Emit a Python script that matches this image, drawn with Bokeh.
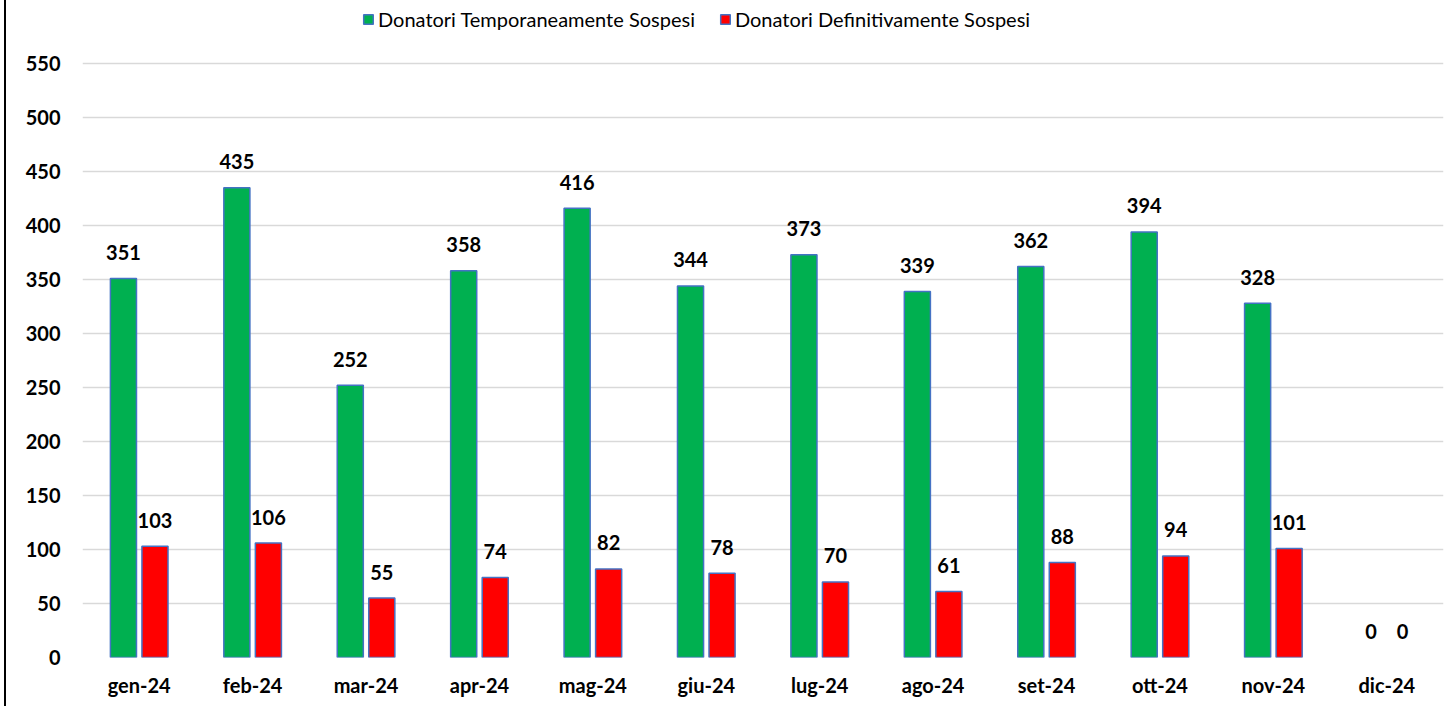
from bokeh.plotting import figure
from bokeh.models import ColumnDataSource, FactorRange, Range1d, Legend, LegendItem, FixedTicker
from bokeh.transform import dodge
from bokeh.core.properties import value
from bokeh.embed import file_html
from bokeh.resources import INLINE

months = ["gen-24", "feb-24", "mar-24", "apr-24", "mag-24", "giu-24",
          "lug-24", "ago-24", "set-24", "ott-24", "nov-24", "dic-24"]
temporanei = [351, 435, 252, 358, 416, 344, 373, 339, 362, 394, 328, 0]
definitivi = [103, 106, 55, 74, 82, 78, 70, 61, 88, 94, 101, 0]
y_ticks = [0, 50, 100, 150, 200, 250, 300, 350, 400, 450, 500, 550]
series_names = ["Donatori Temporaneamente Sospesi", "Donatori Definitivamente Sospesi"]

src = ColumnDataSource(dict(
    month=months,
    temp=temporanei,
    defi=definitivi,
    temp_lbl=[str(v) for v in temporanei],
    defi_lbl=[str(v) for v in definitivi],
    temp_la=[1.0 if v > 0 else 0.0 for v in temporanei],
    defi_la=[1.0 if v > 0 else 0.0 for v in definitivi],
))

# frame spans from canvas top to the zero line; 550 sits 63px below the top
PX_PER_UNIT = 594 / 550
FRAME_H = 657
y_end = FRAME_H / PX_PER_UNIT

p = figure(width=1441, height=706, x_range=FactorRange(*months),
           y_range=Range1d(0, y_end), output_backend="svg", toolbar_location=None,
           min_border_left=76, min_border_right=4, min_border_top=0, min_border_bottom=49)
p.styles = {"margin-left": "4px", "border-left": "2px solid black"}
p.outline_line_color = None
p.background_fill_color = "white"
p.border_fill_color = "white"

GREEN = "#00B050"
RED = "#FF0000"
EDGE = "#4472C4"

g = p.vbar(x=dodge("month", -0.139, range=p.x_range), top="temp", width=0.23, source=src,
           fill_color=GREEN, line_color=EDGE, line_width=1.5, line_alpha="temp_la")
r = p.vbar(x=dodge("month", 0.139, range=p.x_range), top="defi", width=0.23, source=src,
           fill_color=RED, line_color=EDGE, line_width=1.5, line_alpha="defi_la")

lbl_font = value("Lato")
p.text(x=dodge("month", -0.139, range=p.x_range), y="temp", text="temp_lbl", source=src,
       text_font=lbl_font, text_font_size="20px", text_font_style="bold",
       text_align="center", text_baseline="middle", y_offset=-26, text_color="black")
p.text(x=dodge("month", 0.139, range=p.x_range), y="defi", text="defi_lbl", source=src,
       text_font=lbl_font, text_font_size="20px", text_font_style="bold",
       text_align="center", text_baseline="middle", y_offset=-26, text_color="black")

# grid
p.xgrid.grid_line_color = None
p.ygrid.grid_line_color = "#D9D9D9"
p.ygrid.grid_line_width = 1.5
p.yaxis.ticker = FixedTicker(ticks=y_ticks)

for ax in (p.xaxis[0], p.yaxis[0]):
    ax.axis_line_color = None
    ax.major_tick_line_color = None
    ax.minor_tick_line_color = None
    ax.major_label_text_font = "Lato"
    ax.major_label_text_font_size = "20px"
    ax.major_label_text_font_style = "bold"
    ax.major_label_text_color = "black"
p.yaxis.major_label_standoff = 16
p.xaxis.major_label_standoff = 9

legend = Legend(items=[LegendItem(label=series_names[0], renderers=[g]),
                       LegendItem(label=series_names[1], renderers=[r])],
                orientation="horizontal", location=(280, 626),
                label_text_font="Lato", label_text_font_size="20px",
                label_text_color="black",
                label_standoff=4, spacing=24, glyph_width=12, glyph_height=12,
                padding=0, margin=0, border_line_alpha=0, background_fill_alpha=0)
p.add_layout(legend, "center")

open("out.html", "w").write(file_html(p, INLINE))
